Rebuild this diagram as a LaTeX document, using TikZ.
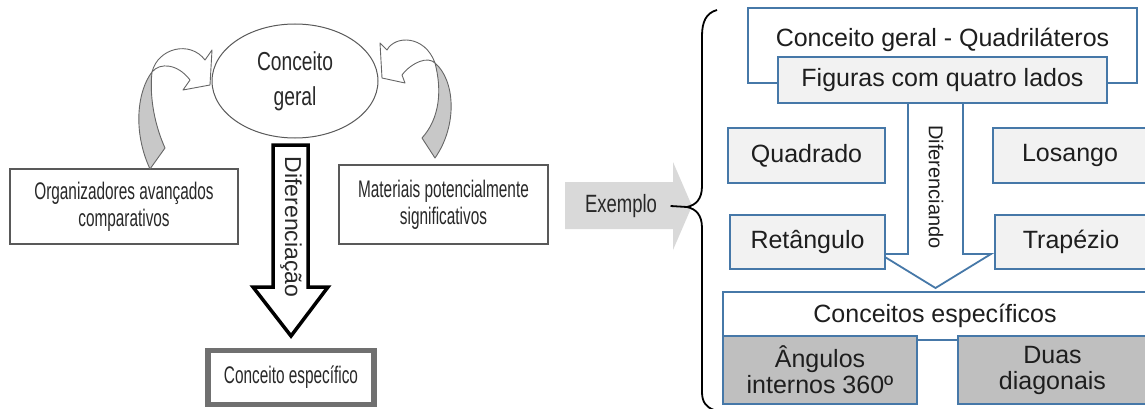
\documentclass[tikz,border=0pt]{standalone}
\usepackage{fontspec}
\setmainfont{Liberation Sans}
\newfontfamily\narrowsf[FakeStretch=0.64]{Liberation Sans}
\newfontfamily\midsf[FakeStretch=0.74]{Liberation Sans}
\newfontfamily\plainsf{Liberation Sans}
\usepackage{tikz}
\usetikzlibrary{positioning, shapes.geometric}
\definecolor{boxblue}{RGB}{70, 120, 168}
\definecolor{lightfill}{RGB}{242, 242, 242}
\definecolor{darkfill}{RGB}{191, 191, 191}
\definecolor{bandgray}{RGB}{200, 200, 200}
\definecolor{exgray}{RGB}{217, 217, 217}
\definecolor{framegray}{RGB}{112, 112, 112}
\definecolor{txtgray}{RGB}{40, 40, 40}
\definecolor{txtdark}{RGB}{30, 30, 30}

\begin{document}
\begin{tikzpicture}[x=1pt, y=-1pt,
    leftbox/.style={draw=black!65, line width=1.2pt, fill=white, inner sep=0pt, align=center, text=txtgray, font=\narrowsf\fontsize{24}{27}\selectfont},
    bluebox/.style={draw=boxblue, line width=1.8pt, inner sep=0pt, align=center, text=txtdark, font=\fontsize{25}{26}\selectfont},
    bandfront/.style={draw=black!60, line width=0.9pt, fill=white, line join=round},
    bandback/.style={draw=black!60, line width=0.9pt, fill=bandgray, line join=round}]
    \useasboundingbox (0,0) rectangle (1145,409);
    \clip (0,0) rectangle (1145,409);

    % left: general concept and its two sources
    \node[ellipse, draw=black!65, line width=1pt, minimum width=166pt, minimum height=114pt, inner sep=0pt, align=center, text=txtgray, font=\midsf\fontsize{26}{35}\selectfont] (geral) at (295,81) {Conceito\\geral};
    \node[leftbox, minimum width=228pt, minimum height=75pt] (organiz) at (124,206.5) {Organizadores avançados\\comparativos};
    \node[leftbox, minimum width=209pt, minimum height=79pt] (materiais) at (443.5,204.5) {Materiais potencialmente\\significativos};

    % curved arrows into the ellipse
    \filldraw[bandback] (152,72) .. controls (138,90) and (132,130) .. (150,169) -- (165,148) .. controls (156,128) and (149,100) .. (152,72) -- cycle;
    \filldraw[bandfront] (152,72) .. controls (158,48) and (190,40) .. (205,60) -- (212,50) -- (210,85) -- (183,90) -- (190,80) .. controls (178,64) and (160,62) .. (152,72) -- cycle;
    \filldraw[bandback] (435,63) .. controls (455,80) and (458,125) .. (435,158) -- (422,138) .. controls (440,118) and (442,90) .. (435,63) -- cycle;
    \filldraw[bandfront] (435,63) .. controls (425,35) and (395,35) .. (387,50) -- (380,43) -- (382,78) -- (405,83) -- (402,75) .. controls (412,62) and (428,56) .. (435,63) -- cycle;

    % differentiation arrow
    \draw[line width=3.5pt, fill=white, line join=miter] (273,145) -- (308,145) -- (308,287) -- (328,287) -- (291,336) -- (253,287) -- (273,287) -- cycle;
    \node[rotate=-90, text=txtgray, font=\plainsf\fontsize{23}{25}\selectfont] (difer) at (291,227) {Diferenciação};
    \node[draw=framegray, line width=5.5pt, minimum width=166pt, minimum height=54pt, inner sep=0pt, text=txtgray, font=\narrowsf\fontsize{24}{27}\selectfont] (especifico) at (291,377.5) {Conceito específico};

    % example arrow and brace
    \fill[exgray] (565,182) -- (673,182) -- (673,162) -- (692,206) -- (673,250) -- (673,229) -- (565,229) -- cycle;
    \node[text=txtgray, font=\midsf\fontsize{25}{27}\selectfont] (exemplo) at (621,206) {Exemplo};
    \coordinate (cusp) at (687,207);
    \draw[line width=1.8pt] ([xshift=10pt]exemplo.east) -- (cusp);
    \draw[line width=1.8pt] (717,10) .. controls (706,13) and (702,22) .. (702,36) -- (702,186) .. controls (702,199) and (696,205) .. (cusp) .. controls (696,209) and (702,215) .. (702,228) -- (702,392) .. controls (702,402) and (706,407) .. (714,410);

    % right: quadrilaterals
    \node[bluebox, fill=white, minimum width=389pt, minimum height=75pt] (quadri) at (942.5,45.5) {};
    \node[text=txtdark, font=\fontsize{25}{26}\selectfont] (quadrilabel) at (942.5,40) {Conceito geral - Quadriláteros};
    \draw[boxblue, line width=1.8pt, fill=white] (908,103) -- (908,254) -- (880,254) -- (935.5,288) -- (991,254) -- (963,254) -- (963,103);
    \node[rotate=-90, text=txtdark, font=\fontsize{20}{24}\selectfont] (difer2) at (936,187) {Diferenciando};
    \node[bluebox, fill=lightfill, minimum width=329pt, minimum height=46pt] (figuras) at (942.5,80) {Figuras com quatro lados};

    \node[bluebox, fill=lightfill, minimum width=157pt, minimum height=55pt] (quadrado) at (806.5,155.5) {Quadrado};
    \node[bluebox, fill=lightfill, minimum width=154pt, minimum height=55pt] (losango) at (1070,155.5) {Losango};
    \node[bluebox, fill=lightfill, minimum width=155pt, minimum height=54pt] (retangulo) at (807.5,242) {Retângulo};
    \node[bluebox, fill=lightfill, minimum width=152pt, minimum height=54pt] (trapezio) at (1071,242) {Trapézio};

    \node[bluebox, fill=white, minimum width=424pt, minimum height=48pt] (especificos) at (935,316) {Conceitos específicos};
    \node[bluebox, fill=darkfill, minimum width=194pt, minimum height=68pt] (angulos) at (820,370) {Ângulos\\internos 360º};
    \node[bluebox, fill=darkfill, minimum width=189pt, minimum height=68pt] (diagonais) at (1052.5,370) {Duas\\diagonais};
\end{tikzpicture}
\end{document}
